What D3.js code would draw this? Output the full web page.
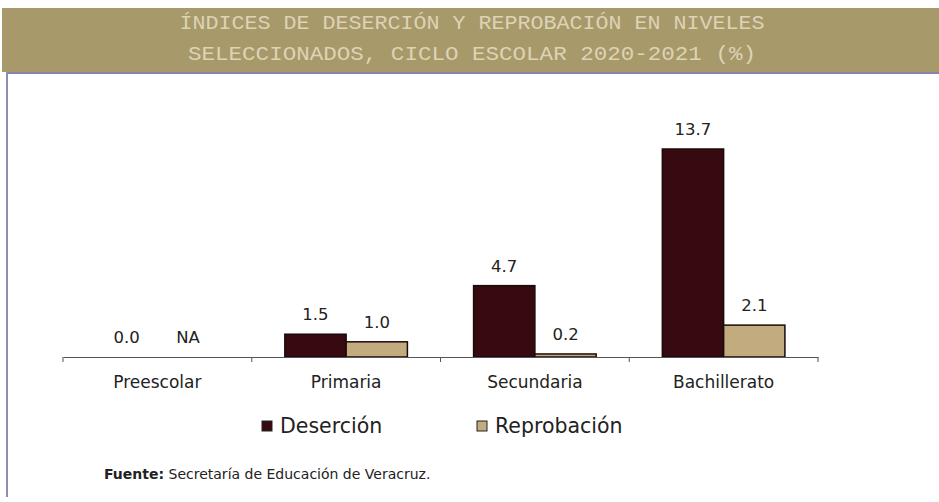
<!DOCTYPE html>
<html><head><meta charset="utf-8">
<script src="https://cdn.jsdelivr.net/npm/d3@7"></script>
<style>body{margin:0;background:#fff}svg{display:block}</style>
</head><body>
<script>
const titleLines = ["ÍNDICES DE DESERCIÓN Y REPROBACIÓN EN NIVELES", "SELECCIONADOS, CICLO ESCOLAR 2020-2021 (%)"];
const categories = ["Preescolar", "Primaria", "Secundaria", "Bachillerato"];
const seriesNames = ["Deserción", "Reprobación"];
const desercion = [0.0, 1.5, 4.7, 13.7];
const reprobacion = [null, 1.0, 0.2, 2.1];
const sourceBold = "Fuente:";
const sourceText = " Secretaría de Educación de Veracruz.";
const colors = ["#360a10", "#c2ab7f"];

const W = 939, H = 502;
const svg = d3.select("body").append("svg").attr("width", W).attr("height", H);

// title band
svg.append("rect").attr("x", 2).attr("y", 8).attr("width", W - 2).attr("height", 64).attr("fill", "#a8996b");
svg.selectAll("text.title").data(titleLines).join("text").attr("class", "title")
  .attr("x", 472).attr("y", (d, i) => 29 + i * 31)
  .attr("text-anchor", "middle")
  .attr("font-family", "Liberation Mono, monospace").attr("font-size", 20)
  .attr("fill", "#ddd3b5")
  .attr("textLength", (d, i) => i === 0 ? 585 : 568)
  .attr("lengthAdjust", "spacingAndGlyphs")
  .text(d => d);

// frame
svg.append("line").attr("x1", 7).attr("x2", W).attr("y1", 73).attr("y2", 73).attr("stroke", "#8585ad").attr("stroke-width", 2);
svg.append("line").attr("x1", 7).attr("x2", 7).attr("y1", 72).attr("y2", 497).attr("stroke", "#8d8db0").attr("stroke-width", 2);

const x = d3.scaleBand().domain(categories).range([63, 818]);
const inner = d3.scaleBand().domain(seriesNames).range([0, x.bandwidth()]).paddingInner(0).paddingOuter(0.54);
const y = d3.scaleLinear().domain([0, 13.7]).range([357, 149]);

const rows = categories.map((c, i) => ({c, vals: [desercion[i], reprobacion[i]]}));

const g = svg.append("g");
rows.forEach(r => {
  r.vals.forEach((v, j) => {
    const bx = x(r.c) + inner(seriesNames[j]);
    if (v !== null && v > 0) {
      g.append("rect").attr("x", bx).attr("y", y(v)).attr("width", inner.bandwidth()).attr("height", y(0) - y(v))
        .attr("fill", colors[j]).attr("stroke", "#1a0a0a").attr("stroke-width", 1.5);
    }
    g.append("text").attr("x", bx + inner.bandwidth() / 2).attr("y", y(v === null ? 0 : v) - 14)
      .attr("text-anchor", "middle").attr("font-family", "DejaVu Sans, Verdana, sans-serif").attr("font-size", 16.5)
      .attr("fill", "#222").text(v === null ? "NA" : d3.format(".1f")(v));
  });
});

// axis
const ax = svg.append("g").attr("transform", `translate(0,${y(0)})`)
  .call(d3.axisBottom(x).tickSize(0).tickPadding(19));
ax.select(".domain").attr("stroke", "#555").attr("stroke-width", 1);
ax.selectAll("text").attr("font-family", "DejaVu Sans, Verdana, sans-serif").attr("font-size", 17).attr("fill", "#222");
const edges = categories.map(c => x(c)).concat([x.range()[1]]);
ax.selectAll("line.edge").data(edges).join("line").attr("class", "edge")
  .attr("x1", d => d).attr("x2", d => d).attr("y1", 0).attr("y2", 5).attr("stroke", "#555");

// legend
const legX = [262, 477];
seriesNames.forEach((s, i) => {
  svg.append("rect").attr("x", legX[i]).attr("y", 421).attr("width", 10).attr("height", 10)
    .attr("fill", colors[i]).attr("stroke", "#222").attr("stroke-width", 1);
  svg.append("text").attr("x", legX[i] + 18).attr("y", 433).attr("font-family", "DejaVu Sans, Verdana, sans-serif")
    .attr("font-size", 20.5).attr("fill", "#222").text(s);
});

// source
const src = svg.append("text").attr("x", 104).attr("y", 479).attr("font-family", "DejaVu Sans, Verdana, sans-serif")
  .attr("font-size", 14).attr("fill", "#222");
src.append("tspan").attr("font-weight", "bold").text(sourceBold);
src.append("tspan").text(sourceText);
</script>
</body></html>
